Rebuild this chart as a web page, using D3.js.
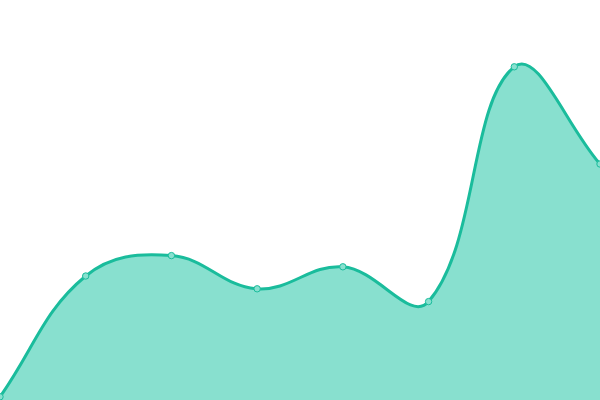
<!DOCTYPE html>
<html>
<head>
<meta charset="utf-8">
<script src="https://cdn.jsdelivr.net/npm/d3@7"></script>
<style>
  html, body { margin: 0; padding: 0; background: #fff; }
  svg { display: block; }
</style>
</head>
<body>
<div id="chart"></div>
<script>
const categories = ["1", "2", "3", "4", "5", "6", "7", "8"];
const values = [0.8, 31, 36.1, 27.8, 33.3, 24.6, 83.3, 59];

const width = 600, height = 400;
const TENSION = 0.4;

// spline with distance-weighted control points, clamped to the plot area
function SplineCurve(context) { this._context = context; }
SplineCurve.prototype = {
  areaStart() { this._line = 0; },
  areaEnd() { this._line = NaN; },
  lineStart() { this._pts = []; },
  point(x, y) { this._pts.push([+x, +y]); },
  lineEnd() {
    const p = this._pts, n = p.length, c = this._context;
    if (n) {
      if (this._line) c.lineTo(p[0][0], p[0][1]); else c.moveTo(p[0][0], p[0][1]);
      const clampX = v => Math.max(0, Math.min(width, v));
      const clampY = v => Math.max(0, Math.min(height, v));
      const cps = p.map((cur, i) => {
        const prev = p[i - 1] || cur, next = p[i + 1] || cur;
        const d01 = Math.hypot(cur[0] - prev[0], cur[1] - prev[1]);
        const d12 = Math.hypot(next[0] - cur[0], next[1] - cur[1]);
        let s01 = d01 / (d01 + d12), s12 = d12 / (d01 + d12);
        if (isNaN(s01)) s01 = 0;
        if (isNaN(s12)) s12 = 0;
        const fa = TENSION * s01, fb = TENSION * s12;
        const dx = next[0] - prev[0], dy = next[1] - prev[1];
        return {
          before: [clampX(cur[0] - fa * dx), clampY(cur[1] - fa * dy)],
          after: [clampX(cur[0] + fb * dx), clampY(cur[1] + fb * dy)]
        };
      });
      for (let i = 0; i < n - 1; i++) {
        c.bezierCurveTo(cps[i].after[0], cps[i].after[1],
          cps[i + 1].before[0], cps[i + 1].before[1],
          p[i + 1][0], p[i + 1][1]);
      }
    }
    if (this._line || (this._line !== 0 && n === 1)) c.closePath();
    this._line = 1 - this._line;
  }
};
const splineCurve = context => new SplineCurve(context);

const svg = d3.select("#chart").append("svg")
  .attr("width", width)
  .attr("height", height);

const x = d3.scalePoint().domain(categories).range([0, width]);
const y = d3.scaleLinear().domain([0, 100]).range([height, 0]);

const area = d3.area()
  .x((d, i) => x(categories[i]))
  .y0(height)
  .y1(d => y(d))
  .curve(splineCurve);

const line = d3.line()
  .x((d, i) => x(categories[i]))
  .y(d => y(d))
  .curve(splineCurve);

svg.append("path")
  .datum(values)
  .attr("d", area)
  .attr("fill", "#88e0cf");

svg.append("path")
  .datum(values)
  .attr("d", line)
  .attr("fill", "none")
  .attr("stroke", "#1abc9c")
  .attr("stroke-width", 3);

svg.append("g")
  .selectAll("circle")
  .data(values)
  .join("circle")
  .attr("cx", (d, i) => x(categories[i]))
  .attr("cy", d => y(d))
  .attr("r", 3.2)
  .attr("fill", "#88e0cf")
  .attr("stroke", "#1abc9c")
  .attr("stroke-width", 1);
</script>
</body>
</html>
